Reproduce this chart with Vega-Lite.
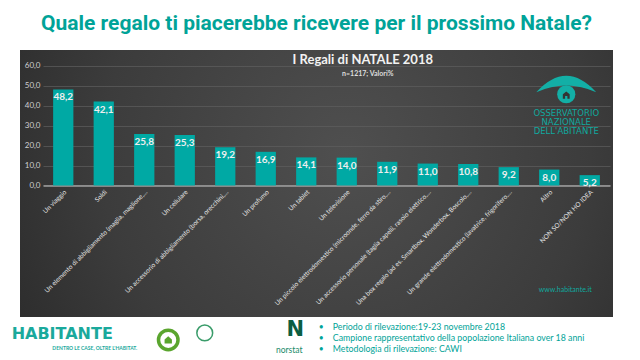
{
  "$schema": "https://vega.github.io/schema/vega-lite/v6.json",
  "width": 593,
  "height": 267,
  "autosize": {"type": "none"},
  "padding": {"left": 20, "top": 50, "right": 27, "bottom": 43},
  "background": "white",
  "config": {
    "locale": {"number": {"decimal": ",", "thousands": ".", "grouping": [3], "currency": ["€", ""]}},
    "font": "Lato",
    "axis": {"labelFont": "Lato"}
  },
  "title": {
    "text": "Quale regalo ti piacerebbe ricevere per il prossimo Natale?",
    "font": "Roboto", "fontSize": 21, "fontWeight": "bold", "color": "#00A398",
    "anchor": "middle", "frame": "group", "offset": 16
  },
  "view": {
    "stroke": null,
    "fill": {
      "gradient": "radial", "x1": 0.55, "y1": 0.45, "r1": 0, "x2": 0.55, "y2": 0.45, "r2": 0.75,
      "stops": [{"offset": 0, "color": "#4f4f4f"}, {"offset": 0.55, "color": "#3c3c3c"}, {"offset": 1, "color": "#242424"}]
    }
  },
  "data": {
    "values": [
      {"regalo": "Un viaggio", "valore": 48.2},
      {"regalo": "Soldi", "valore": 42.1},
      {"regalo": "Un elemento di abbigliamento (maglia, maglione,…", "valore": 25.8},
      {"regalo": "Un cellulare", "valore": 25.3},
      {"regalo": "Un accessorio di abbigliamento (borsa, orecchini,…", "valore": 19.2},
      {"regalo": "Un profumo", "valore": 16.9},
      {"regalo": "Un tablet", "valore": 14.1},
      {"regalo": "Un televisione", "valore": 14.0},
      {"regalo": "Un piccolo elettrodomestico (microonde, ferro da stiro,…", "valore": 11.9},
      {"regalo": "Un accessorio personale (taglia capelli, rasoio elettrico,…", "valore": 11.0},
      {"regalo": "Una box regalo (ad es. Smartbox, Wonderbox, Boscolo,…", "valore": 10.8},
      {"regalo": "Un grande elettrodomestico (lavatrice, frigorifero,…", "valore": 9.2},
      {"regalo": "Altro", "valore": 8.0},
      {"regalo": "NON SO/NON HO IDEA", "valore": 5.2}
    ]
  },
  "layer": [
    {
      "mark": {"type": "bar", "color": "#00A9A4"},
      "encoding": {
        "x": {
          "field": "regalo", "type": "nominal", "sort": null,
          "scale": {
            "domain": ["Un viaggio", "Soldi", "Un elemento di abbigliamento (maglia, maglione,…", "Un cellulare", "Un accessorio di abbigliamento (borsa, orecchini,…", "Un profumo", "Un tablet", "Un televisione", "Un piccolo elettrodomestico (microonde, ferro da stiro,…", "Un accessorio personale (taglia capelli, rasoio elettrico,…", "Una box regalo (ad es. Smartbox, Wonderbox, Boscolo,…", "Un grande elettrodomestico (lavatrice, frigorifero,…", "Altro", "NON SO/NON HO IDEA"],
            "range": [23, 590], "paddingInner": 0.5, "paddingOuter": 0.25
          },
          "axis": {
            "orient": "bottom", "offset": -131.5, "labelAngle": -45, "labelFontSize": 6.5,
            "labelColor": "#e6e6e6", "labelLimit": 400, "labelPadding": 3, "ticks": false,
            "domainColor": "#a0a0a0", "domainWidth": 1.5, "title": null, "labelOverlap": false
          }
        },
        "y": {
          "field": "valore", "type": "quantitative",
          "scale": {"domain": [-66, 68], "nice": false, "zero": false},
          "axis": {
            "values": [0, 10, 20, 30, 40, 50, 60], "format": ".1f", "offset": -23,
            "domain": false, "ticks": false, "labelFontSize": 8, "labelColor": "#cfcfcf",
            "labelPadding": 3, "gridColor": "#5e5e5e", "gridWidth": 0.7, "title": null
          }
        }
      }
    },
    {
      "mark": {"type": "text", "baseline": "top", "dy": 3, "fontWeight": "bold", "fontSize": 10, "color": "#eeeeee"},
      "encoding": {
        "x": {"field": "regalo", "type": "nominal", "sort": null},
        "y": {"field": "valore", "type": "quantitative"},
        "text": {"field": "valore", "type": "quantitative", "format": ".1f"}
      }
    },
    {
      "data": {"values": [{}]},
      "mark": {"type": "text", "fontWeight": "bold", "fontSize": 13, "color": "#f2f2f2", "baseline": "middle", "dx": 16},
      "encoding": {"x": {"datum": "Un televisione"}, "y": {"datum": 63}, "text": {"value": "I Regali di NATALE 2018"}}
    },
    {
      "data": {"values": [{}]},
      "mark": {"type": "text", "fontWeight": "bold", "fontSize": 7, "color": "#dddddd", "baseline": "middle", "dx": 21},
      "encoding": {"x": {"datum": "Un televisione"}, "y": {"datum": 56}, "text": {"value": "n=1217; Valori%"}}
    },
    {
      "data": {"values": [{}]},
      "mark": {"type": "point", "shape": "M-1,0.05 Q0,-1.05 1,0.05 Q0,-0.4 -1,0.05 Z", "filled": true, "opacity": 1, "color": "#13AFA6", "size": 3600, "xOffset": 17, "strokeWidth": 0},
      "encoding": {"x": {"datum": "Altro"}, "y": {"datum": 47.5}}
    },
    {
      "data": {"values": [{}]},
      "mark": {"type": "point", "shape": "circle", "filled": true, "opacity": 1, "color": "#13AFA6", "size": 330, "xOffset": 17, "strokeWidth": 0},
      "encoding": {"x": {"datum": "Altro"}, "y": {"datum": 45.8}}
    },
    {
      "data": {"values": [{}]},
      "mark": {"type": "point", "shape": "M-0.6,0.7 L-0.6,-0.1 L0,-0.6 L0.6,-0.1 L0.6,0.7 L0.2,0.7 L0.2,0.2 L-0.2,0.2 L-0.2,0.7 Z", "filled": true, "opacity": 1, "color": "#333333", "size": 130, "xOffset": 17, "strokeWidth": 0},
      "encoding": {"x": {"datum": "Altro"}, "y": {"datum": 45.5}}
    },
    {
      "data": {"values": [{}]},
      "mark": {"type": "text", "font": "DejaVu Sans", "fontSize": 8.5, "color": "#10A89E", "baseline": "middle", "dx": 17},
      "encoding": {"x": {"datum": "Altro"}, "y": {"datum": 36.4}, "text": {"value": "OSSERVATORIO"}}
    },
    {
      "data": {"values": [{}]},
      "mark": {"type": "text", "font": "DejaVu Sans", "fontSize": 8.5, "color": "#10A89E", "baseline": "middle", "dx": 17},
      "encoding": {"x": {"datum": "Altro"}, "y": {"datum": 31.9}, "text": {"value": "NAZIONALE"}}
    },
    {
      "data": {"values": [{}]},
      "mark": {"type": "text", "font": "DejaVu Sans", "fontSize": 8.5, "color": "#10A89E", "baseline": "middle", "dx": 17},
      "encoding": {"x": {"datum": "Altro"}, "y": {"datum": 27.4}, "text": {"value": "DELL'ABITANTE"}}
    },
    {
      "data": {"values": [{}]},
      "mark": {"type": "text", "fontSize": 7, "color": "#10A89E", "baseline": "middle", "dx": 16},
      "encoding": {"x": {"datum": "Altro"}, "y": {"datum": -52.4}, "text": {"value": "www.habitante.it"}}
    },
    {
      "data": {"values": [{}]},
      "mark": {"type": "text", "font": "DejaVu Sans", "fontWeight": "bold", "fontSize": 16, "color": "#1AA99C", "baseline": "middle", "dx": -1},
      "encoding": {"x": {"datum": "Un viaggio"}, "y": {"datum": -74.5}, "text": {"value": "HABITANTE"}}
    },
    {
      "data": {"values": [{}]},
      "mark": {"type": "text", "fontWeight": "bold", "fontSize": 5, "color": "#1AA99C", "baseline": "middle", "dx": -9},
      "encoding": {"x": {"datum": "Soldi"}, "y": {"datum": -81.5}, "text": {"value": "DENTRO LE CASE, OLTRE L'HABITAT."}}
    },
    {
      "data": {"values": [{}]},
      "mark": {"type": "point", "shape": "circle", "filled": false, "opacity": 1, "color": "#5AA52E", "strokeWidth": 3.5, "size": 380, "xOffset": 24},
      "encoding": {"x": {"datum": "Un elemento di abbigliamento (maglia, maglione,…"}, "y": {"datum": -77.5}}
    },
    {
      "data": {"values": [{}]},
      "mark": {"type": "point", "shape": "M-0.7,0.7 L-0.7,-0.1 L0,-0.7 L0.7,-0.1 L0.7,0.7 Z", "filled": true, "opacity": 1, "color": "#5AA52E", "size": 110, "xOffset": 24, "strokeWidth": 0},
      "encoding": {"x": {"datum": "Un elemento di abbigliamento (maglia, maglione,…"}, "y": {"datum": -77.5}}
    },
    {
      "data": {"values": [{}]},
      "mark": {"type": "point", "shape": "circle", "filled": false, "opacity": 1, "color": "#3A9C6A", "strokeWidth": 1.5, "size": 250, "xOffset": 20},
      "encoding": {"x": {"datum": "Un cellulare"}, "y": {"datum": -74}}
    },
    {
      "data": {"values": [{}]},
      "mark": {"type": "text", "font": "DejaVu Sans", "fontWeight": "bold", "fontSize": 21, "color": "#0B5E43", "baseline": "middle", "dx": -11},
      "encoding": {"x": {"datum": "Un tablet"}, "y": {"datum": -72.5}, "text": {"value": "N"}}
    },
    {
      "data": {"values": [{}]},
      "mark": {"type": "text", "fontSize": 8.5, "color": "#1A8A6A", "baseline": "middle", "dx": -17},
      "encoding": {"x": {"datum": "Un tablet"}, "y": {"datum": -82.5}, "text": {"value": "norstat"}}
    },
    {
      "data": {"values": [{}]},
      "mark": {"type": "text", "fontSize": 8.5, "color": "#00A398", "baseline": "middle", "dx": 15},
      "encoding": {"x": {"datum": "Un tablet"}, "y": {"datum": -71}, "text": {"value": "•"}}
    },
    {
      "data": {"values": [{}]},
      "mark": {"type": "text", "fontSize": 8.5, "color": "#00A398", "baseline": "middle", "dx": 15},
      "encoding": {"x": {"datum": "Un tablet"}, "y": {"datum": -76.5}, "text": {"value": "•"}}
    },
    {
      "data": {"values": [{}]},
      "mark": {"type": "text", "fontSize": 8.5, "color": "#00A398", "baseline": "middle", "dx": 15},
      "encoding": {"x": {"datum": "Un tablet"}, "y": {"datum": -82}, "text": {"value": "•"}}
    },
    {
      "data": {"values": [{}]},
      "mark": {"type": "text", "fontSize": 8.8, "color": "#00A398", "baseline": "middle", "align": "left", "dx": -14},
      "encoding": {"x": {"datum": "Un televisione"}, "y": {"datum": -71}, "text": {"value": "Periodo di rilevazione:19-23 novembre 2018"}}
    },
    {
      "data": {"values": [{}]},
      "mark": {"type": "text", "fontSize": 8.8, "color": "#00A398", "baseline": "middle", "align": "left", "dx": -14},
      "encoding": {"x": {"datum": "Un televisione"}, "y": {"datum": -76.5}, "text": {"value": "Campione rappresentativo della popolazione Italiana over 18 anni"}}
    },
    {
      "data": {"values": [{}]},
      "mark": {"type": "text", "fontSize": 8.8, "color": "#00A398", "baseline": "middle", "align": "left", "dx": -14},
      "encoding": {"x": {"datum": "Un televisione"}, "y": {"datum": -82}, "text": {"value": "Metodologia di rilevazione: CAWI"}}
    }
  ]
}
